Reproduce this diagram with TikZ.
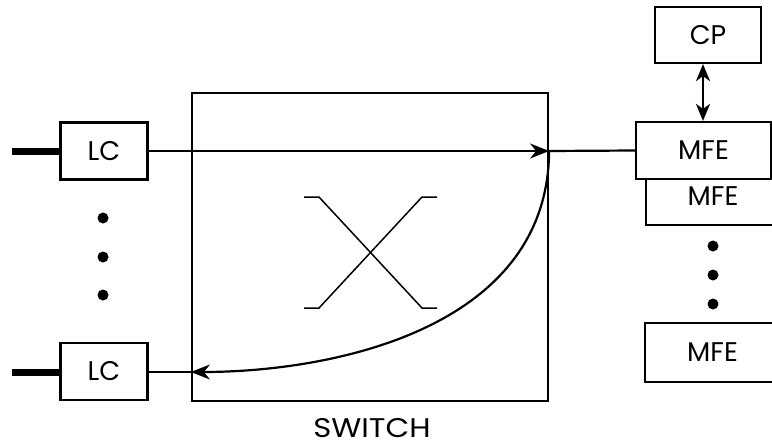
\documentclass[tikz,border=0pt]{standalone}
\usepackage{fontspec}
\setmainfont{Poppins}
\usetikzlibrary{arrows.meta}
\tikzset{
  box/.style={draw, line width=2.2pt, fill=white, inner sep=0pt, font=\fontsize{27}{30}\selectfont},
  conn/.style={line width=2.2pt},
  arr/.style={conn, -{Stealth[length=19pt,width=15pt,inset=6pt]}},
  darr/.style={conn, {Stealth[length=17pt,width=14pt,inset=5pt]}-{Stealth[length=17pt,width=14pt,inset=5pt]}},
  lead/.style={line width=7pt},
  xline/.style={line width=1.5pt},
  dotc/.style={circle, fill=black, inner sep=0pt, minimum size=11pt},
}
\begin{document}
\begin{tikzpicture}[x=1pt,y=-1pt]
\useasboundingbox (0,0) rectangle (772,447);
% switch
\node[box, minimum width=356pt, minimum height=308pt] (switch) at (370,247) {};
\node[font=\fontsize{27}{30}\selectfont\addfontfeature{FakeStretch=1.14}, anchor=base] (swlabel) at (372,437) {SWITCH};
% X symbol
\draw[xline] (304,197) -- (319,197) -- (422,308) -- (437,308);
\draw[xline] (304,308) -- (319,308) -- (422,197) -- (437,197);
% line cards
\node[box, minimum width=87pt, minimum height=57pt] (lc1) at (104,151) {LC};
\node[box, minimum width=87pt, minimum height=57pt] (lc2) at (104,371.5) {LC};
\coordinate (in1) at (12,151);
\coordinate (in2) at (12,372);
\draw[lead] (in1) -- (lc1.west);
\draw[lead] (in2) -- (lc2.west |- in2);
% left dots
\node[dotc] (ld1) at (103,218) {};
\node[dotc] (ld2) at (103,257) {};
\node[dotc] (ld3) at (103,295) {};
% MFEs
\node[box, minimum width=134pt, minimum height=58pt] (mfe2) at (713,196) {MFE};
\node[box, minimum width=135pt, minimum height=57pt] (mfe1) at (703.5,150.5) {MFE};
\node[box, minimum width=135pt, minimum height=59pt] (mfe3) at (712.5,352.5) {MFE};
\node[box, minimum width=106pt, minimum height=56pt] (cp) at (708,35) {CP};
% right dots
\node[dotc] (rd1) at (713,246) {};
\node[dotc] (rd2) at (713,275) {};
\node[dotc] (rd3) at (713,304) {};
% connections
\coordinate (sr) at (switch.east |- lc1.east);
\coordinate (sl) at (switch.west |- 0,372);
\draw[arr] (lc1.east) -- (sr);
\draw[conn] (sr) -- (mfe1.west);
\draw[conn] (lc2.east |- sl) -- (sl);
\draw[arr] (sr) .. controls (548,330) and (330,372) .. (sl);
\draw[darr] (mfe1.north -| 703,0) -- (cp.south -| 703,0);
\end{tikzpicture}
\end{document}
